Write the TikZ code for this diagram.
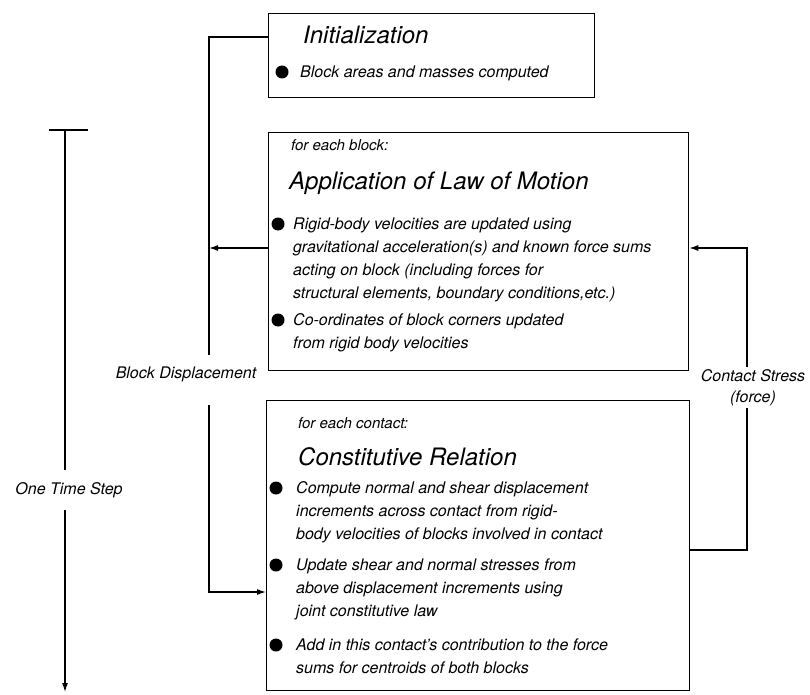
\documentclass[tikz,border=0pt]{standalone}
\usepackage{fontspec}
\setmainfont{TeX Gyre Heros}
\usetikzlibrary{arrows.meta}
\begin{document}
\begin{tikzpicture}[x=1pt,y=-1pt,
  box/.style={draw,line width=1.3pt,anchor=north west,inner sep=0},
  wire/.style={line width=1.3pt},
  arr/.style={wire,-{Latex[length=9pt,width=6pt]}},
  title/.style={font=\fontsize{24}{28}\selectfont\itshape,anchor=base west,inner sep=0},
  sub/.style={font=\fontsize{15}{18}\selectfont\itshape,anchor=base west,inner sep=0},
  body/.style={font=\fontsize{16}{23}\selectfont\itshape,anchor=base west,align=left,inner sep=0},
  lab/.style={font=\fontsize{16}{21}\selectfont\itshape,align=center,inner sep=0},
  dot/.style={circle,fill,inner sep=0,minimum size=13pt}]
\useasboundingbox (0,0) rectangle (810,695);
\fill[white] (0,0) rectangle (810,695);

% boxes
\node[box,minimum width=326pt,minimum height=84pt] (init) at (268,13) {};
\node[box,minimum width=420pt,minimum height=238pt] (motion) at (268,132) {};
\node[box,minimum width=423pt,minimum height=290pt] (const) at (266,400) {};

% Initialization (base anchor = last line's baseline)
\node[title] (t1) at (303,44) {Initialization};
\node[dot] (d1) at (282,72) {};
\node[body] (b1) at (300,78) {Block areas and masses computed};

% Motion
\node[sub] (s2) at (291,151) {for each block:};
\node[title] (t2) at (289,189) {Application of Law of Motion};
\node[dot] (d2a) at (278,224) {};
\node[body] (b2a) at (293,298) {Rigid-body velocities are updated using\\gravitational acceleration(s) and known force sums\\acting on block (including forces for\\structural elements, boundary conditions,etc.)};
\node[dot] (d2b) at (278,320) {};
\node[body] (b2b) at (293,348) {Co-ordinates of block corners updated\\from rigid body velocities};

% Constitutive
\node[sub] (s3) at (298,428) {for each contact:};
\node[title] (t3) at (298,465) {Constitutive Relation};
\node[dot] (d3a) at (276,488) {};
\node[body] (b3a) at (296,539) {Compute normal and shear displacement\\increments across contact from rigid-\\body velocities of blocks involved in contact};
\node[dot] (d3b) at (276,565) {};
\node[body] (b3b) at (296,616) {Update shear and normal stresses from\\above displacement increments using\\joint constitutive law};
\node[dot] (d3c) at (276,645) {};
\node[body] (b3c) at (296,673) {Add in this contact's contribution to the force\\sums for centroids of both blocks};

% labels
\node[lab] (bd) at (186,374) {Block Displacement};
\node[lab] (cs) at (753,388) {Contact Stress\\(force)};
\node[lab] (ts) at (69,490) {One Time Step};

% block displacement loop
\coordinate (bdA) at (209,37);
\coordinate (bdB) at (209,355);
\coordinate (bdM) at (209,248);
\coordinate (bdC) at (209,405);
\coordinate (bdD) at (209,592);
\draw[wire] (bdA -| init.west) -- (bdA) -- (bdB);
\draw[arr] (bdM -| motion.west) -- (bdM);
\draw[arr] (bdC) -- (bdD) -- (bdD -| const.west);

% contact stress loop
\coordinate (cs1) at (747,248);
\coordinate (cs2) at (747,367);
\coordinate (cs3) at (747,408);
\coordinate (cs4) at (747,550);
\draw[arr] (cs2) -- (cs1) -- (cs1 -| motion.east);
\draw[wire] (cs3) -- (cs4) -- (cs4 -| const.east);

% time step
\coordinate (tsL) at (49,130);
\coordinate (tsR) at (88,130);
\coordinate (ts0) at (65,130);
\coordinate (ts1) at (65,470);
\coordinate (ts2) at (65,510);
\coordinate (ts3) at (65,692);
\draw[wire] (tsL) -- (tsR);
\draw[wire] (ts0) -- (ts1);
\draw[arr] (ts2) -- (ts3);
\end{tikzpicture}
\end{document}
